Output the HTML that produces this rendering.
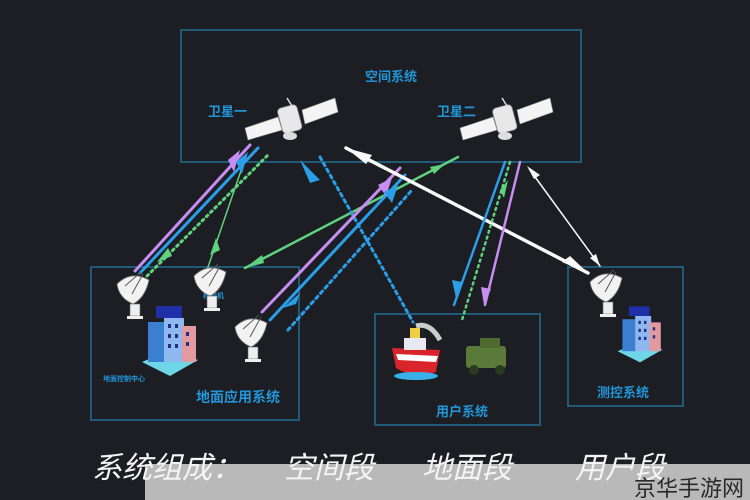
<!DOCTYPE html>
<html><head><meta charset="utf-8"><style>
html,body{margin:0;padding:0;background:#1d1d24;}
svg{display:block}
</style></head><body>
<svg width="750" height="500" viewBox="0 0 750 500" xmlns="http://www.w3.org/2000/svg" font-family="'Liberation Sans','Noto Sans CJK SC',sans-serif">
<defs>
<g id="sat">
 <polygon points="-45,8 -12,-3 -8,10 -42,20" fill="#f4f4f4" stroke="#999" stroke-width="0.6"/>
 <polygon points="12,-10 45,-22 48,-8 15,4" fill="#f4f4f4" stroke="#999" stroke-width="0.6"/>
 <rect x="-10" y="-14" width="20" height="26" rx="4" fill="#e8e8e8" stroke="#888" stroke-width="0.8" transform="rotate(-15)"/>
 <ellipse cx="0" cy="16" rx="7" ry="4" fill="#ddd"/>
 <line x1="2" y1="-14" x2="-3" y2="-22" stroke="#ddd" stroke-width="1.5"/>
</g>
<g id="dish">
 <path d="M-18,-8 Q-4,-22 14,-12 Q10,6 -2,12 Q-16,6 -18,-8z" fill="#f2f2f2" stroke="#777" stroke-width="0.8"/>
 <line x1="-10" y1="-6" x2="6" y2="-20" stroke="#555" stroke-width="1"/>
 <line x1="-3" y1="2" x2="8" y2="-18" stroke="#555" stroke-width="1"/>
 <rect x="-5" y="12" width="10" height="12" fill="#eee" stroke="#666" stroke-width="0.6"/>
 <rect x="-8" y="24" width="16" height="3" fill="#eee"/>
</g>
<g id="bld">
 <polygon points="-28,14 0,28 28,12 0,2" fill="#6fd6e8"/>
 <rect x="-22" y="-26" width="18" height="40" fill="#3b7fd0"/>
 <rect x="-6" y="-30" width="20" height="44" fill="#8fb7f0"/>
 <rect x="12" y="-22" width="14" height="36" fill="#e29aa0"/>
 <rect x="-14" y="-42" width="26" height="12" fill="#1e2fa8"/>
 <g fill="#203080"><rect x="-2" y="-24" width="3" height="4"/><rect x="5" y="-24" width="3" height="4"/><rect x="-2" y="-14" width="3" height="4"/><rect x="5" y="-14" width="3" height="4"/><rect x="-2" y="-4" width="3" height="4"/><rect x="5" y="-4" width="3" height="4"/><rect x="16" y="-16" width="3" height="4"/><rect x="16" y="-6" width="3" height="4"/></g>
</g>
</defs>
<rect width="750" height="500" fill="#1d1d24"/>
<g fill="none" stroke="#1f5b78" stroke-width="2">
<rect x="181" y="30" width="400" height="132"/>
<rect x="91" y="267" width="208" height="153"/>
<rect x="375" y="314" width="165" height="111"/>
<rect x="568" y="267" width="115" height="139"/>
</g>
<g fill="#2196d8" font-weight="bold">
<text x="365" y="81" font-size="13">空间系统</text>
<text x="208" y="116" font-size="13">卫星一</text>
<text x="437" y="116" font-size="13">卫星二</text>
<text x="196" y="402" font-size="14">地面应用系统</text>
<text x="436" y="416" font-size="13">用户系统</text>
<text x="597" y="397" font-size="13">测控系统</text>
<text x="103" y="381" font-size="7">地面控制中心</text>
<text x="203" y="298" font-size="7">移校机</text>
</g>
<g fill="none" stroke-linecap="round">
<line x1="135" y1="271" x2="250" y2="145" stroke="#c58ef0" stroke-width="3"/>
<line x1="140" y1="273" x2="258" y2="148" stroke="#2a9ee6" stroke-width="3"/>
<line x1="147" y1="276" x2="268" y2="155" stroke="#5fd27d" stroke-width="3" stroke-dasharray="2 4"/>
<line x1="246" y1="156" x2="207" y2="270" stroke="#5fd27d" stroke-width="1.5"/>
<line x1="458" y1="157" x2="245" y2="268" stroke="#5fd27d" stroke-width="2.5"/>
<line x1="320" y1="157" x2="413" y2="322" stroke="#2a9ee6" stroke-width="3" stroke-dasharray="3 4"/>
<line x1="262" y1="312" x2="400" y2="168" stroke="#c58ef0" stroke-width="3"/>
<line x1="270" y1="320" x2="405" y2="175" stroke="#2a9ee6" stroke-width="3"/>
<line x1="288" y1="330" x2="412" y2="190" stroke="#2a9ee6" stroke-width="3" stroke-dasharray="3 4"/>
<line x1="346" y1="148" x2="588" y2="273" stroke="#fafafa" stroke-width="3.5"/>
<line x1="530" y1="170" x2="600" y2="266" stroke="#fafafa" stroke-width="1.5"/>
<line x1="505" y1="162" x2="454" y2="305" stroke="#2a9ee6" stroke-width="2.5"/>
<line x1="510" y1="162" x2="462" y2="320" stroke="#5fd27d" stroke-width="2.5" stroke-dasharray="2 4"/>
<line x1="520" y1="162" x2="485" y2="305" stroke="#c58ef0" stroke-width="2.5"/>
</g>
<g>
<polygon points="228,160 240,150 234,172" fill="#c58ef0"/>
<polygon points="236,162 248,152 242,174" fill="#2a9ee6"/>
<polygon points="157,262 168,248 172,256" fill="#5fd27d"/>
<polygon points="210,255 216,238 220,250" fill="#5fd27d"/>
<polygon points="445,164 434,174 430,167" fill="#5fd27d"/>
<polygon points="245,268 262,255 264,263" fill="#5fd27d"/>
<polygon points="300,160 320,180 310,183" fill="#2a9ee6"/>
<polygon points="378,185 392,178 386,196" fill="#c58ef0"/>
<polygon points="384,192 398,185 392,203" fill="#2a9ee6"/>
<polygon points="283,308 300,293 296,304" fill="#2a9ee6"/>
<polygon points="346,148 372,155 366,164" fill="#fafafa"/>
<polygon points="588,273 562,262 570,256" fill="#fafafa"/>
<polygon points="527,166 540,175 534,179" fill="#fafafa"/>
<polygon points="600,266 590,258 596,254" fill="#fafafa"/>
<polygon points="456,298 452,280 462,282" fill="#2a9ee6"/>
<polygon points="484,305 481,287 491,289" fill="#c58ef0"/>
<polygon points="500,190 508,180 504,198" fill="#5fd27d"/>
</g>
<use href="#sat" x="290" y="120"/>
<use href="#sat" x="505" y="120"/>
<use href="#dish" x="135" y="292"/>
<use href="#dish" x="212" y="284"/>
<use href="#dish" x="253" y="335"/>
<use href="#dish" x="608" y="290"/>
<use href="#bld" x="170" y="348"/>
<use href="#bld" x="640" y="340" transform="translate(640 340) scale(0.8) translate(-640 -340)"/>
<g>
<path d="M392,348 L440,350 L436,372 Q415,380 396,368 Z" fill="#d8242a"/>
<path d="M396,354 L438,356 L436,362 L398,360Z" fill="#fff"/>
<rect x="404" y="338" width="22" height="12" fill="#e8e8f0"/>
<rect x="410" y="328" width="10" height="10" fill="#f0d040"/>
<ellipse cx="416" cy="376" rx="22" ry="4" fill="#3ab0e8"/>
<path d="M416,326 Q430,322 440,340" stroke="#ccc" stroke-width="5" fill="none"/>
<rect x="466" y="346" width="40" height="22" rx="3" fill="#5a7a3a"/>
<rect x="480" y="338" width="20" height="10" fill="#4d6b30"/>
<circle cx="474" cy="370" r="5" fill="#2b3a1e"/><circle cx="500" cy="370" r="5" fill="#2b3a1e"/>
</g>
<rect x="145" y="464" width="605" height="36" fill="#b9b9b9"/>
<g fill="#f4f4f4" font-size="30" font-style="italic">
<text x="92" y="478">系统组成：</text>
<text x="284" y="478">空间段</text>
<text x="422" y="478">地面段</text>
<text x="575" y="478">用户段</text>
</g>
<text x="634" y="496" fill="#2a2a2a" font-size="22">京华手游网</text>
</svg>
</body></html>
